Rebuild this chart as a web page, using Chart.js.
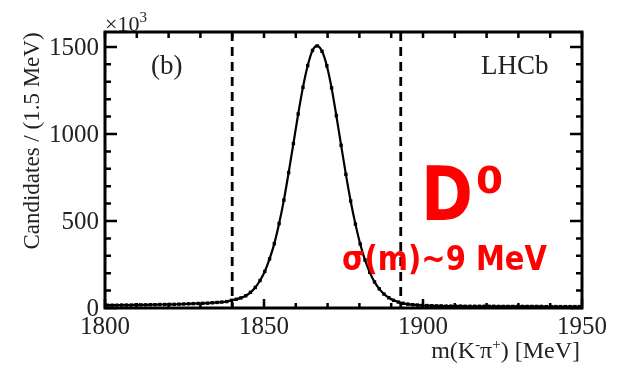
<!DOCTYPE html>
<html>
<head>
<meta charset="utf-8">
<script src="https://cdn.jsdelivr.net/npm/chart.js@4.4.1/dist/chart.umd.min.js"></script>
<style>
  html, body { margin: 0; padding: 0; background: #fff; }
</style>
</head>
<body>
<canvas id="massChart" width="619" height="366"></canvas>
<script>
// D0 -> K- pi+ mass spectrum, bins of 1.5 MeV starting at 1800 MeV
const binStart = 1800;
const binWidth = 1.5;
// candidates per bin (x10^3)
const candidates = [
  16, 16, 16, 17, 17, 17, 18, 18, 18, 19,
  19, 20, 20, 21, 21, 22, 23, 24, 25, 26,
  27, 28, 30, 32, 34, 37, 44, 50, 58, 70,
  90, 118, 158, 210, 282, 370, 485, 620, 778, 945,
  1115, 1268, 1393, 1480, 1506, 1475, 1392, 1265, 1105, 935,
  768, 615, 482, 368, 276, 205, 150, 110, 80, 59,
  44, 34, 27, 22, 19, 17, 15, 14, 13, 12,
  12, 11, 11, 11, 11, 10, 10, 10, 10, 10,
  10, 10, 9, 9, 9, 9, 9, 9, 9, 9,
  9, 9, 8, 8, 8, 8, 8, 8, 8, 8
];
const xTicks = [1800, 1850, 1900, 1950];
const yTicks = [0, 500, 1000, 1500];
const cutLines = [1840, 1893];

const points = candidates.map((v, i) => ({ x: binStart + binWidth * (i + 0.5), y: v }));

const serif = '"Liberation Serif", "Times New Roman", serif';
const textCol = '#222';

function squeezeText(ctx, txt, x, y, w) {
  const m = ctx.measureText(txt).width;
  ctx.save();
  ctx.translate(x, y);
  ctx.scale(w / m, 1);
  ctx.fillText(txt, 0, 0);
  ctx.restore();
}

const framePlugin = {
  id: 'frame',
  beforeDatasetsDraw(chart) {
    const { ctx, chartArea: a, scales: { x } } = chart;
    ctx.save();
    ctx.strokeStyle = '#000';
    ctx.lineWidth = 2.8;
    ctx.setLineDash([9, 6]);
    cutLines.forEach(v => {
      const px = x.getPixelForValue(v);
      ctx.beginPath();
      ctx.moveTo(px, a.top);
      ctx.lineTo(px, a.bottom);
      ctx.stroke();
    });
    ctx.restore();
  },
  afterDraw(chart) {
    const { ctx, chartArea: a, scales: { x, y } } = chart;
    ctx.save();
    ctx.strokeStyle = '#000';
    ctx.lineWidth = 3;
    ctx.strokeRect(a.left, a.top, a.right - a.left, a.bottom - a.top);

    // inward ticks
    ctx.lineWidth = 2.5;
    for (let v = 1800; v <= 1950; v += 10) {
      const px = x.getPixelForValue(v);
      const len = v % 50 === 0 ? 9 : 5;
      ctx.beginPath();
      ctx.moveTo(px, a.bottom); ctx.lineTo(px, a.bottom - len);
      ctx.moveTo(px, a.top); ctx.lineTo(px, a.top + 6);
      ctx.stroke();
    }
    for (let v = 0; v <= 1500; v += 100) {
      const py = y.getPixelForValue(v);
      const len = v % 500 === 0 ? 12 : 6;
      ctx.beginPath();
      ctx.moveTo(a.left, py); ctx.lineTo(a.left + len, py);
      ctx.moveTo(a.right, py); ctx.lineTo(a.right - len, py);
      ctx.stroke();
    }

    // tick labels
    ctx.fillStyle = textCol;
    ctx.font = '25px ' + serif;
    ctx.textAlign = 'center';
    ctx.textBaseline = 'alphabetic';
    xTicks.forEach(v => ctx.fillText(String(v), x.getPixelForValue(v), 334));
    ctx.textAlign = 'right';
    ctx.textBaseline = 'middle';
    yTicks.forEach(v => ctx.fillText(String(v), 99, y.getPixelForValue(v) + 1));

    // exponent
    ctx.textAlign = 'left';
    ctx.textBaseline = 'alphabetic';
    ctx.font = '22px ' + serif;
    ctx.fillText('\u00d710', 105, 31);
    const w10 = ctx.measureText('\u00d710').width;
    ctx.font = '15px ' + serif;
    ctx.fillText('3', 105 + w10, 22);

    // y title
    ctx.save();
    ctx.translate(33, 141);
    ctx.rotate(-Math.PI / 2);
    ctx.textAlign = 'center';
    ctx.textBaseline = 'middle';
    ctx.font = '23px ' + serif;
    ctx.fillText('Candidates / (1.5 MeV)', 0, 0);
    ctx.restore();

    // x title m(K-pi+) [MeV], right aligned
    const big = '24px ' + serif, sup = '15px ' + serif;
    const parts = [['m(K', big, 0], ['-', sup, -9], ['\u03c0', big, 0], ['+', sup, -9], [') [MeV]', big, 0]];
    let total = 0;
    parts.forEach(p => { ctx.font = p[1]; total += ctx.measureText(p[0]).width; });
    let cx = 580 - total;
    parts.forEach(p => {
      ctx.font = p[1];
      ctx.fillText(p[0], cx, 358 + p[2]);
      cx += ctx.measureText(p[0]).width;
    });

    // labels inside the frame
    ctx.font = '27px ' + serif;
    ctx.fillText('(b)', 151, 74);
    ctx.fillText('LHCb', 481, 74);

    // red annotations
    ctx.fillStyle = '#ff0000';
    ctx.font = 'bold 75px "DejaVu Sans", sans-serif';
    squeezeText(ctx, 'D', 421, 220, 52);
    ctx.font = 'bold 38px "DejaVu Sans", sans-serif';
    squeezeText(ctx, '0', 476, 193, 27);
    ctx.font = 'bold 34px "DejaVu Sans", sans-serif';
    squeezeText(ctx, '\u03c3(m)~9 MeV', 342, 270, 205);
    ctx.restore();
  }
};

new Chart(document.getElementById('massChart'), {
  type: 'line',
  data: {
    datasets: [
      {
        label: 'fit',
        data: points,
        borderColor: '#000',
        borderWidth: 2.2,
        pointRadius: 0,
        tension: 0.4,
        cubicInterpolationMode: 'monotone'
      },
      {
        label: 'data',
        data: points,
        showLine: false,
        pointStyle: 'rect',
        pointRadius: 2.4,
        backgroundColor: '#000',
        borderColor: '#000',
        borderWidth: 0
      }
    ]
  },
  options: {
    responsive: false,
    animation: false,
    devicePixelRatio: 1,
    layout: { padding: { left: 105, top: 32, right: 37, bottom: 58 } },
    plugins: { legend: { display: false }, tooltip: { enabled: false } },
    scales: {
      x: { type: 'linear', min: 1800, max: 1950, display: false },
      y: { min: 0, max: 1586, display: false }
    }
  },
  plugins: [framePlugin]
});
</script>
</body>
</html>
